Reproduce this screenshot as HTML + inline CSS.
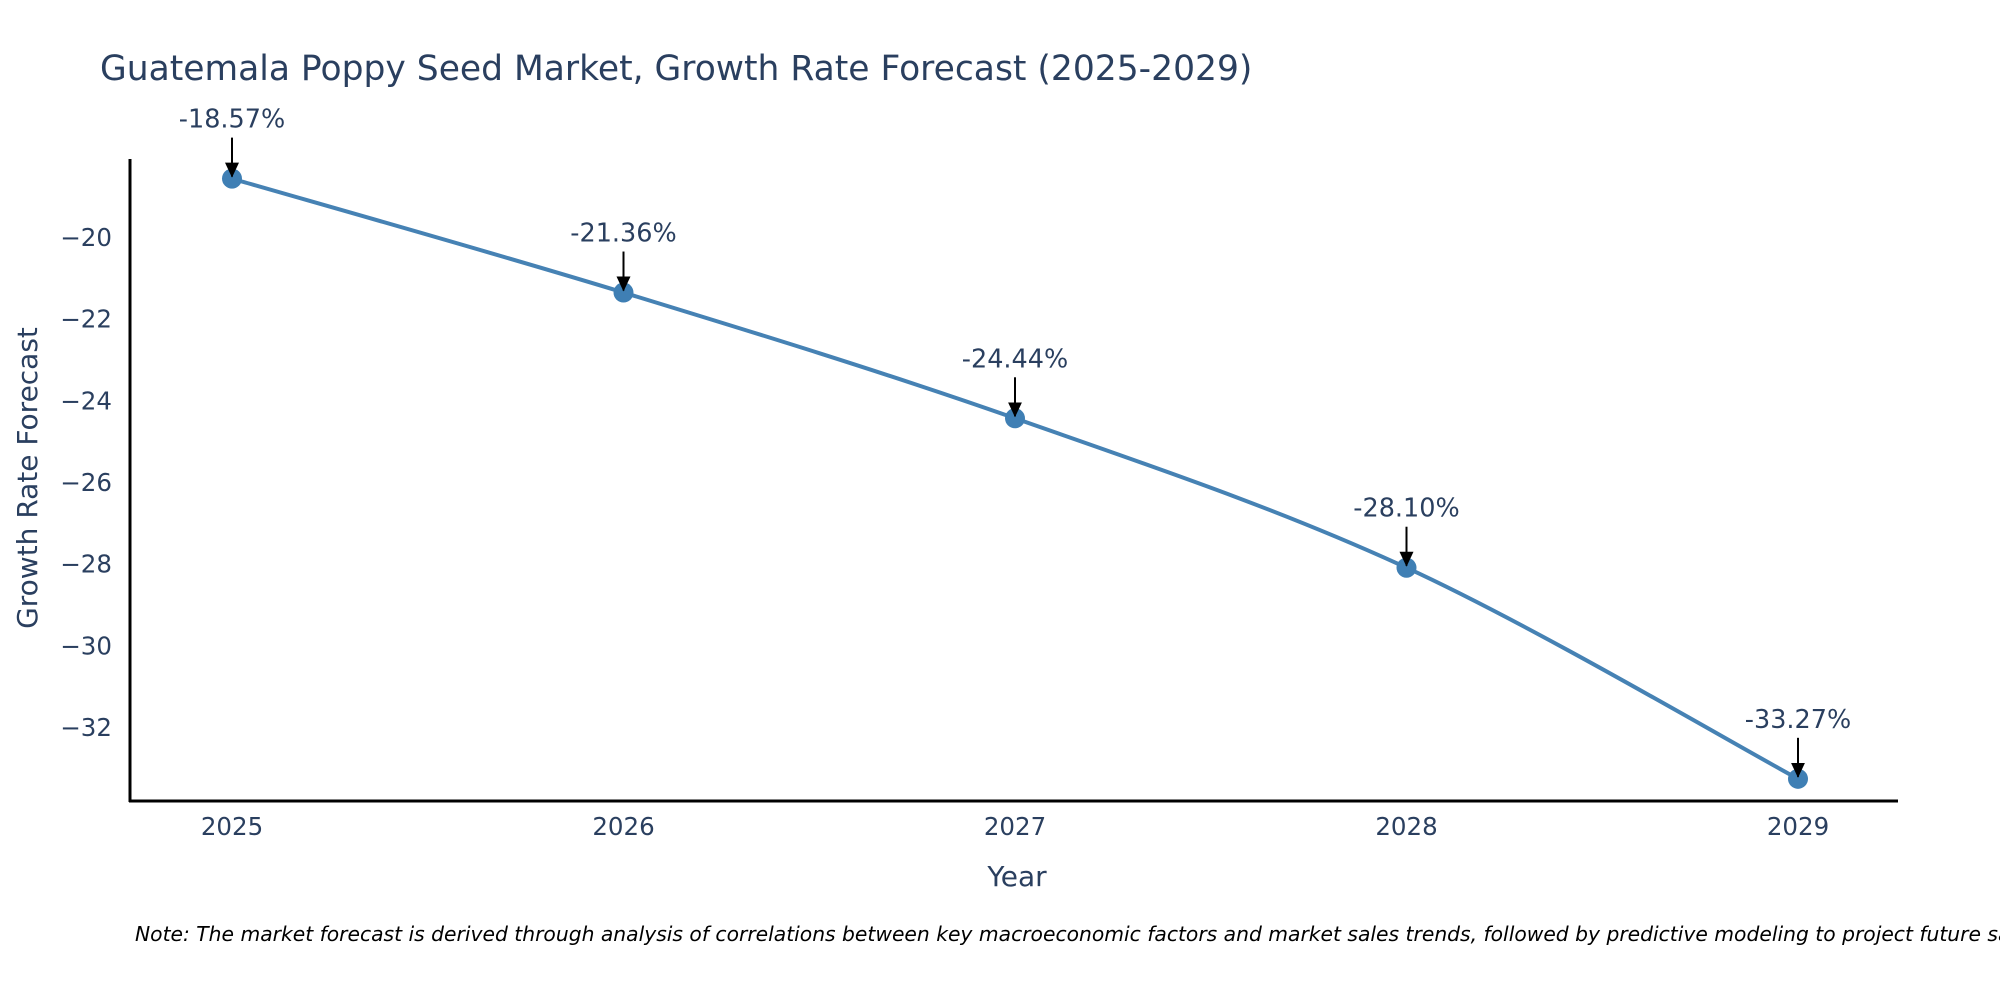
<!DOCTYPE html>
<html><head><meta charset="utf-8"><style>
html,body{margin:0;padding:0;background:#fff;}
svg{display:block;font-family:"DejaVu Sans","Liberation Sans",sans-serif;}
</style></head><body>
<svg id="chart" width="2000" height="1000" viewBox="0 0 2000 1000">
<defs>
<marker id="ah2" markerWidth="16" markerHeight="16" refX="14" refY="8" orient="auto" markerUnits="userSpaceOnUse"><path d="M0,1 L15,8 L0,15 z" fill="#000"/></marker></defs>
<text x="100" y="80" font-size="34.5" fill="#2a3f5f">Guatemala Poppy Seed Market, Growth Rate Forecast (2025-2029)</text>
<g id="yticks"></g>
<g id="xticks"></g>
<path id="line" fill="none" stroke="#4682b4" stroke-width="4"/>
<g id="points"></g>
<g id="annots"></g>
<line x1="130" y1="159" x2="130" y2="802" stroke="#000" stroke-width="3"/>
<line x1="129" y1="801" x2="1898" y2="801" stroke="#000" stroke-width="3"/>
<text x="1017" y="886" font-size="28" fill="#2a3f5f" text-anchor="middle">Year</text>
<text x="0" y="0" font-size="28" fill="#2a3f5f" text-anchor="middle" transform="translate(37,478) rotate(-90)">Growth Rate Forecast</text>
<text x="135" y="941" font-size="20.3" font-style="italic" fill="#000">Note: The market forecast is derived through analysis of correlations between key macroeconomic factors and market sales trends, followed by predictive modeling to project future sales.</text>
</svg>
<script>
const years = [2025, 2026, 2027, 2028, 2029];
const growth = [-18.57, -21.36, -24.44, -28.10, -33.27];
const labels = ["-18.57%", "-21.36%", "-24.44%", "-28.10%", "-33.27%"];
const yTicks = [-20, -22, -24, -26, -28, -30, -32];
const NS = "http://www.w3.org/2000/svg";
function xs(i){ return 232 + (1798-232)*(i)/(years.length-1); }
function ys(v){ return 237 + (-20 - v)*40.83; }
function mk(tag, attrs, parent){ const e=document.createElementNS(NS,tag); for(const k in attrs) e.setAttribute(k,attrs[k]); parent.appendChild(e); return e; }
const yt=document.getElementById('yticks');
yTicks.forEach(t=>{ const e=mk('text',{x:112,y:ys(t)+9,'font-size':24.5,fill:'#2a3f5f','text-anchor':'end'},yt); e.textContent=String(t).replace('-','\u2212');

 });
const xt=document.getElementById('xticks');
years.forEach((y,i)=>{ const e=mk('text',{x:xs(i),y:835,'font-size':24.5,fill:'#2a3f5f','text-anchor':'middle'},xt); e.textContent=y;

 });
const P=growth.map((v,i)=>[xs(i),ys(v)]);
let d='M'+P[0][0]+','+P[0][1];
for(let i=0;i<P.length-1;i++){ const p0=P[Math.max(0,i-1)],p1=P[i],p2=P[i+1],p3=P[Math.min(P.length-1,i+2)]; const s=6;
d+=' C'+(p1[0]+(p2[0]-p0[0])/s)+','+(p1[1]+(p2[1]-p0[1])/s)+' '+(p2[0]-(p3[0]-p1[0])/s)+','+(p2[1]-(p3[1]-p1[1])/s)+' '+p2[0]+','+p2[1]; }
document.getElementById('line').setAttribute('d',d);
const pts=document.getElementById('points'), an=document.getElementById('annots');
growth.forEach((v,i)=>{ const c=mk('circle',{cx:xs(i),cy:ys(v),r:10,fill:'#3f7fb4'},pts);


const l=mk('line',{x1:xs(i),y1:ys(v)-41,x2:xs(i),y2:ys(v)-2,stroke:'#000','stroke-width':2,'marker-end':'url(#ah2)'},an);


const t=mk('text',{x:xs(i),y:ys(v)-51,'font-size':25.5,fill:'#2a3f5f','text-anchor':'middle'},an); t.textContent=labels[i];

 });
</script>
</body></html>
